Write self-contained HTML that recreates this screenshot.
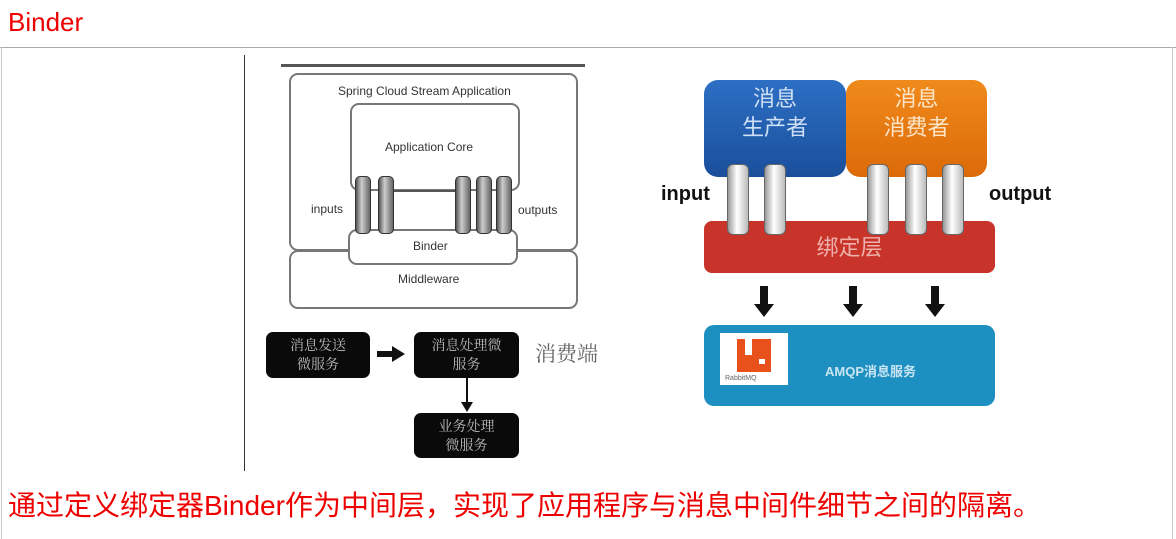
<!DOCTYPE html>
<html><head><meta charset="utf-8"><style>
body{margin:0;width:1176px;height:539px;background:#fff;position:relative;overflow:hidden;font-family:"Liberation Sans","Noto Sans CJK SC",sans-serif}
.a{position:absolute}
.bx{position:absolute;border:2px solid #777;border-radius:9px;background:#fff;box-sizing:border-box}
.t{position:absolute;font-size:12px;color:#333;white-space:nowrap}
.cy{position:absolute;width:16px;height:58px;border-radius:5px;border:1px solid #333;box-sizing:border-box;background:linear-gradient(90deg,#555,#ccc 40%,#666)}
.blk{position:absolute;background:#0a0a0a;border-radius:7px;color:#bbb;font-size:14px;text-align:center;line-height:19px;box-sizing:border-box;padding-top:4px;font-family:"Noto Serif CJK SC",serif}
.rc{position:absolute;width:22px;height:71px;border-radius:6px;border:1px solid #666;box-sizing:border-box;background:linear-gradient(90deg,#999,#fff 45%,#bbb)}
.ar{position:absolute;width:8px;height:20px;background:#111}
.ar:after{content:"";position:absolute;left:-6px;top:18px;border-left:10px solid transparent;border-right:10px solid transparent;border-top:13px solid #111}
</style></head><body>
<div class="a" style="left:8px;top:7px;font-size:26px;color:#e00">Binder</div>
<div class="a" style="left:0;top:47px;width:1176px;height:1px;background:#aaa"></div>
<div class="a" style="left:1px;top:47px;width:1px;height:492px;background:#ccc"></div>
<div class="a" style="left:1172px;top:47px;width:1px;height:492px;background:#ccc"></div>
<div class="a" style="left:244px;top:55px;width:1px;height:416px;background:#333"></div>

<div class="a" style="left:281px;top:64px;width:304px;height:3px;background:#555"></div>
<div class="bx" style="left:289px;top:73px;width:289px;height:178px"></div>
<div class="bx" style="left:289px;top:250px;width:289px;height:59px"></div>
<div class="bx" style="left:350px;top:103px;width:170px;height:88px"></div>
<div class="a" style="left:393px;top:190px;width:63px;height:38px;border-top:2px solid #555;border-bottom:2px solid #555;background:#fff"></div>
<div class="bx" style="left:348px;top:229px;width:170px;height:36px"></div>
<div class="cy" style="left:355px;top:176px"></div>
<div class="cy" style="left:378px;top:176px"></div>
<div class="cy" style="left:455px;top:176px"></div>
<div class="cy" style="left:476px;top:176px"></div>
<div class="cy" style="left:496px;top:176px"></div>
<div class="t" style="left:338px;top:84px">Spring Cloud Stream Application</div>
<div class="t" style="left:385px;top:140px">Application Core</div>
<div class="t" style="left:311px;top:202px">inputs</div>
<div class="t" style="left:518px;top:203px">outputs</div>
<div class="t" style="left:413px;top:239px">Binder</div>
<div class="t" style="left:398px;top:272px">Middleware</div>

<div class="blk" style="left:266px;top:332px;width:104px;height:46px">消息发送<br>微服务</div>
<div class="a" style="left:377px;top:351px;width:16px;height:6px;background:#111"></div>
<div class="a" style="left:392px;top:346px;border-left:13px solid #111;border-top:8px solid transparent;border-bottom:8px solid transparent"></div>
<div class="blk" style="left:414px;top:332px;width:105px;height:46px">消息处理微<br>服务</div>
<div class="a" style="left:466px;top:378px;width:2px;height:28px;background:#111"></div>
<div class="a" style="left:461px;top:402px;border-top:10px solid #111;border-left:6px solid transparent;border-right:6px solid transparent"></div>
<div class="blk" style="left:414px;top:413px;width:105px;height:45px">业务处理<br>微服务</div>
<div class="a" style="left:535px;top:338px;font-size:21px;color:#666;font-family:'Noto Serif CJK SC',serif">消费端</div>

<div class="a" style="left:704px;top:80px;width:142px;height:97px;border-radius:14px;background:linear-gradient(#2d6fc4,#1a4f9c);color:#cfe0f5;font-size:22px;text-align:center;line-height:29px;padding-top:4px;box-sizing:border-box">消息<br>生产者</div>
<div class="a" style="left:846px;top:80px;width:141px;height:97px;border-radius:14px;background:linear-gradient(#f08a1c,#dc6a08);color:#fde5c8;font-size:22px;text-align:center;line-height:29px;padding-top:4px;box-sizing:border-box">消息<br>消费者</div>
<div class="a" style="left:704px;top:221px;width:291px;height:52px;border-radius:8px;background:#c8342a;color:#eeb0aa;font-size:22px;text-align:center;line-height:54px">绑定层</div>
<div class="rc" style="left:727px;top:164px"></div>
<div class="rc" style="left:764px;top:164px"></div>
<div class="rc" style="left:867px;top:164px"></div>
<div class="rc" style="left:905px;top:164px"></div>
<div class="rc" style="left:942px;top:164px"></div>
<div class="a" style="left:661px;top:183px;font-size:20px;font-weight:bold;color:#111">input</div>
<div class="a" style="left:989px;top:183px;font-size:20px;font-weight:bold;color:#111">output</div>
<div class="ar" style="left:760px;top:286px"></div>
<div class="ar" style="left:849px;top:286px"></div>
<div class="ar" style="left:931px;top:286px"></div>
<div class="a" style="left:704px;top:325px;width:291px;height:81px;border-radius:10px;background:#1d8fc0"></div>
<div class="a" style="left:720px;top:333px;width:68px;height:52px;background:#fff"></div>
<div class="a" style="left:737px;top:339px;width:34px;height:33px;background:#e8501c"></div>
<div class="a" style="left:745px;top:339px;width:7px;height:16px;background:#fff"></div>
<div class="a" style="left:759px;top:359px;width:6px;height:5px;background:#fff"></div>
<div class="a" style="left:725px;top:375px;font-size:7px;color:#666">RabbitMQ</div>
<div class="a" style="left:825px;top:361px;font-size:13px;font-weight:bold;color:#cbe6f3">AMQP消息服务</div>

<div class="a" style="left:8px;top:484px;font-size:28px;color:#e00;white-space:nowrap">通过定义绑定器Binder作为中间层，实现了应用程序与消息中间件细节之间的隔离。</div>
</body></html>
